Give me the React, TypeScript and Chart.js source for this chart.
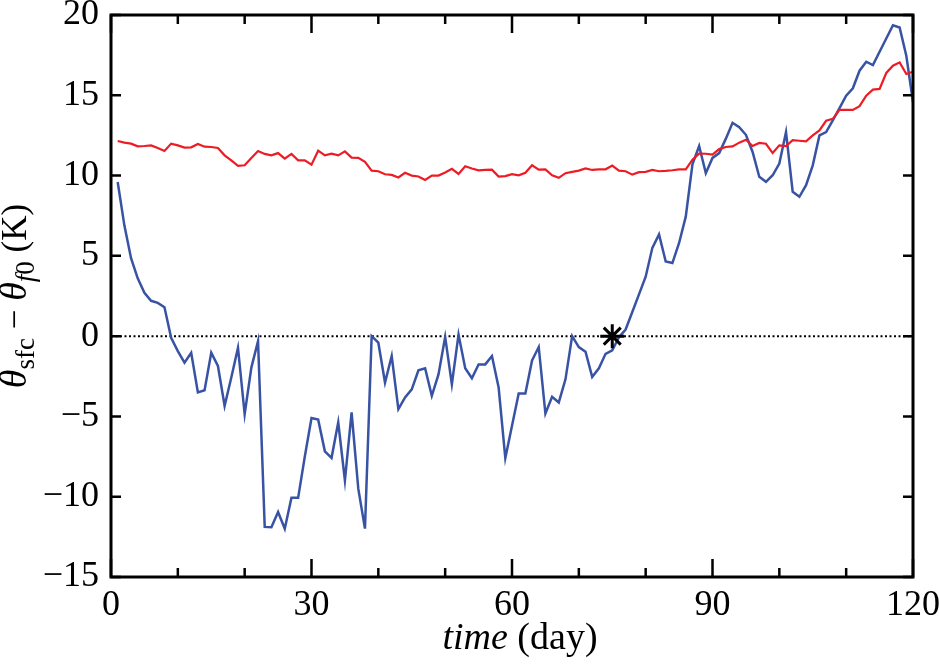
import { useEffect, useRef } from "react"
import { Chart, registerables } from "chart.js"

Chart.register(...registerables)

// daily samples, day 1 .. 120
const days = Array.from({ length: 120 }, (_, i) => i + 1)

const surfaceDiff = [
  9.6, 6.9, 4.85, 3.6, 2.7, 2.2, 2.07, 1.8, -0.1, -0.93,
  -1.65, -1.03, -3.5, -3.37, -1.03, -1.86, -4.34, -2.58, -0.72, -4.86,
  -1.96, -0.31, -11.88, -11.9, -10.95, -12.0, -10.07, -10.07, -7.5, -5.1,
  -5.2, -7.17, -7.58, -5.37, -8.99, -4.75, -9.5, -11.99, 0, -0.41,
  -2.89, -1.24, -4.55, -3.82, -3.31, -2.13, -2.0, -3.72, -2.38, -0.05,
  -3.0, 0.1, -2.0, -2.62, -1.76, -1.76, -1.24, -3.2, -7.6, -5.58,
  -3.57, -3.57, -1.51, -0.68, -4.82, -3.78, -4.13, -2.69, 0, -0.68,
  -0.97, -2.54, -2.0, -1.1, -0.89, -0.06, 0.41, 1.5, 2.6, 3.7,
  5.5, 6.34, 4.65, 4.55, 5.8, 7.44, 10.7, 11.84, 10.15, 11.1,
  11.4, 12.3, 13.29, 13.02, 12.54, 11.47, 9.92, 9.61, 10.02, 10.75,
  12.71, 8.99, 8.68, 9.4, 10.64, 12.5, 12.71, 13.43, 14.2, 14.98,
  15.44, 16.53, 17.09, 16.88, 17.71, 18.54, 19.36, 19.22, 17.46, 14.57,
]

const referenceDiff = [
  12.15, 12.05, 11.99, 11.82, 11.84, 11.88, 11.72, 11.53, 11.99, 11.88,
  11.74, 11.76, 11.97, 11.8, 11.78, 11.72, 11.26, 10.95, 10.6, 10.64,
  11.1, 11.53, 11.35, 11.26, 11.4, 11.05, 11.35, 10.95, 10.95, 10.68,
  11.55, 11.26, 11.37, 11.26, 11.51, 11.12, 11.1, 10.85, 10.31, 10.27,
  10.08, 10.04, 9.88, 10.17, 10.0, 9.94, 9.73, 10.0, 10.0, 10.19,
  10.42, 10.1, 10.58, 10.44, 10.33, 10.35, 10.37, 9.94, 9.97, 10.09,
  10.02, 10.17, 10.64, 10.37, 10.39, 10.02, 9.86, 10.15, 10.23, 10.31,
  10.44, 10.35, 10.39, 10.39, 10.62, 10.31, 10.27, 10.06, 10.21, 10.23,
  10.35, 10.27, 10.29, 10.33, 10.39, 10.39, 10.99, 11.37, 11.36, 11.3,
  11.65, 11.78, 11.82, 12.05, 12.23, 11.84, 12.03, 11.98, 11.4, 11.88,
  11.84, 12.21, 12.17, 12.13, 12.5, 12.81, 13.41, 13.53, 14.09, 14.09,
  14.09, 14.32, 14.98, 15.35, 15.4, 16.39, 16.84, 17.05, 16.33, 16.47,
]

const crossingDay = 75
const crossingValue = 0

const xMinorTicks = [0, 10, 20, 30, 40, 50, 60, 70, 80, 90, 100, 110, 120]
const xMajorTicks = [0, 30, 60, 90, 120]
const yTicks = [-15, -10, -5, 0, 5, 10, 15, 20]

const SERIF = "'Liberation Serif', 'DejaVu Serif', serif"

const framePlugin = {
  id: "frame",
  afterDraw(chart: any) {
    const { ctx, chartArea: a, scales } = chart
    const xs = scales.x
    const ys = scales.y
    ctx.save()
    ctx.strokeStyle = "#000"
    ctx.lineWidth = 2.5
    ctx.beginPath()
    for (const v of xMinorTicks) {
      const px = xs.getPixelForValue(v)
      const len = xMajorTicks.includes(v) ? 18 : 9
      ctx.moveTo(px, a.bottom)
      ctx.lineTo(px, a.bottom - len)
      ctx.moveTo(px, a.top)
      ctx.lineTo(px, a.top + len)
    }
    for (const v of yTicks) {
      const py = ys.getPixelForValue(v)
      ctx.moveTo(a.left, py)
      ctx.lineTo(a.left + 10, py)
      ctx.moveTo(a.right, py)
      ctx.lineTo(a.right - 10, py)
    }
    ctx.stroke()
    ctx.lineWidth = 3
    ctx.strokeRect(a.left, a.top, a.right - a.left, a.bottom - a.top)

    // x title: "time (day)"
    ctx.fillStyle = "#000"
    ctx.textBaseline = "alphabetic"
    ctx.textAlign = "left"
    const big = `38px ${SERIF}`
    const bigIt = `italic 38px ${SERIF}`
    ctx.font = bigIt
    const w1 = ctx.measureText("time").width
    ctx.font = big
    const w2 = ctx.measureText(" (day)").width
    const tx = 520 - (w1 + w2) / 2
    ctx.font = bigIt
    ctx.fillText("time", tx, 649)
    ctx.font = big
    ctx.fillText(" (day)", tx + w1, 649)

    // y title: theta_sfc - theta_f0 (K)
    const parts = [
      { t: "θ", f: `italic 38px ${SERIF}`, dy: 0 },
      { t: "sfc", f: `27px ${SERIF}`, dy: 8 },
      { t: " − ", f: `35px ${SERIF}`, dy: 0 },
      { t: "θ", f: `italic 38px ${SERIF}`, dy: 0 },
      { t: "f", f: `italic 27px ${SERIF}`, dy: 8 },
      { t: "0", f: `27px ${SERIF}`, dy: 8 },
      { t: " (K)", f: `35px ${SERIF}`, dy: 0 },
    ]
    let total = 0
    const widths = parts.map((p) => {
      ctx.font = p.f
      const w = ctx.measureText(p.t).width
      total += w
      return w
    })
    ctx.translate(26, 296)
    ctx.rotate(-Math.PI / 2)
    let cx = -total / 2
    parts.forEach((p, i) => {
      ctx.font = p.f
      ctx.fillText(p.t, cx, p.dy)
      cx += widths[i]
    })
    ctx.restore()
  },
}

export default function App() {
  const canvasRef = useRef<HTMLCanvasElement>(null)
  const chartRef = useRef<Chart | null>(null)

  useEffect(() => {
    const canvas = canvasRef.current
    if (!canvas) return
    if (chartRef.current) chartRef.current.destroy()

    chartRef.current = new Chart(canvas, {
      type: "line",
      data: {
        datasets: [
          {
            type: "scatter",
            label: "crossing",
            data: [{ x: crossingDay, y: crossingValue }],
            pointStyle: "star",
            pointRadius: 12,
            borderColor: "#000",
            backgroundColor: "#000",
            pointBorderWidth: 3,
          },
          {
            label: "reference",
            data: days.map((d, i) => ({ x: d, y: referenceDiff[i] })),
            borderColor: "#ED1C24",
            borderWidth: 2.2,
            pointRadius: 0,
            tension: 0,
          },
          {
            label: "surface",
            data: days.map((d, i) => ({ x: d, y: surfaceDiff[i] })),
            borderColor: "#3953A4",
            borderWidth: 2.5,
            pointRadius: 0,
            tension: 0,
          },
          {
            label: "zero",
            data: [
              { x: 0, y: 0 },
              { x: 120, y: 0 },
            ],
            borderColor: "#000",
            borderWidth: 2,
            borderDash: [2, 2.5],
            pointRadius: 0,
          },
        ],
      },
      options: {
        responsive: false,
        animation: false,
        layout: { padding: { top: 12, right: 26, left: 0, bottom: 0 } },
        plugins: {
          legend: { display: false },
          tooltip: { enabled: false },
        },
        scales: {
          x: {
            type: "linear",
            min: 0,
            max: 120,
            grid: { display: false, drawTicks: false },
            border: { display: false },
            ticks: {
              stepSize: 30,
              color: "#000",
              padding: 7,
              maxRotation: 0,
              font: { family: SERIF, size: 36 },
            },
            afterFit: (s: any) => {
              s.height = 91
              s.paddingLeft = 0
              s.paddingRight = 0
            },
          },
          y: {
            min: -15,
            max: 20,
            grid: { display: false, drawTicks: false },
            border: { display: false },
            ticks: {
              stepSize: 5,
              color: "#000",
              padding: 12,
              font: { family: SERIF, size: 36 },
              callback: (v: any) => (v < 0 ? "−" + Math.abs(v) : String(v)),
            },
            afterFit: (s: any) => {
              s.width = 111
              s.paddingTop = 0
              s.paddingBottom = 0
            },
          },
        },
      },
      plugins: [framePlugin],
    })

    return () => {
      if (chartRef.current) {
        chartRef.current.destroy()
        chartRef.current = null
      }
    }
  }, [])

  return (
    <div style={{ position: "absolute", left: 0, top: 0, width: 939, height: 668, background: "#fff" }}>
      <canvas ref={canvasRef} width={939} height={668} />
    </div>
  )
}
